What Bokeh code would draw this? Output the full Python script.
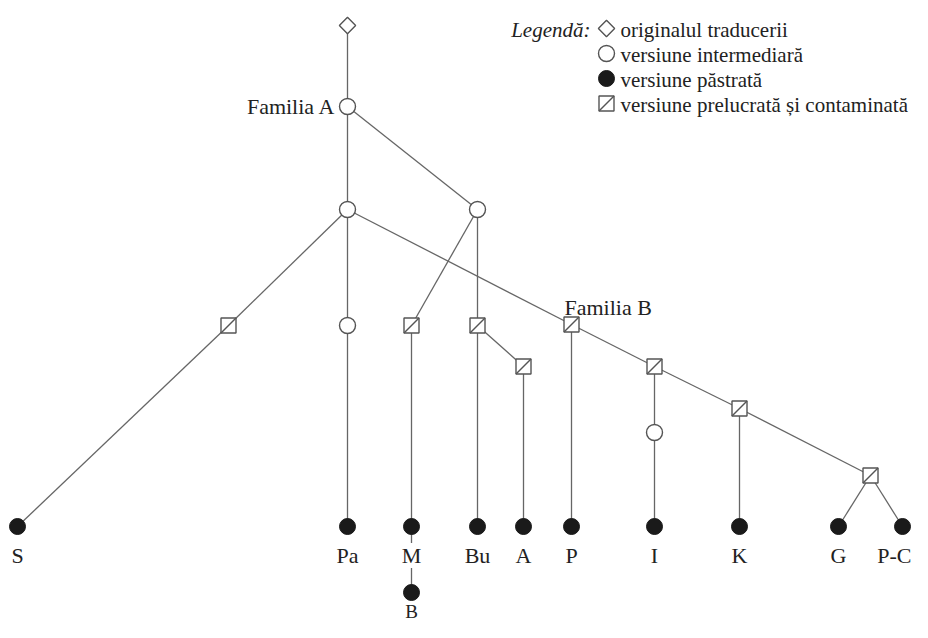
import math
from bokeh.plotting import figure
from bokeh.models import Range1d
from bokeh.core.properties import value
from bokeh.embed import file_html
from bokeh.resources import INLINE

# ---- data -------------------------------------------------------------
node_id = ["root", "famA", "c1", "c2", "sqS", "ciPa", "sqM", "sqBu", "sqA", "sqP",
           "sqI", "ciI", "sqK", "sqG",
           "S", "Pa", "M", "B", "Bu", "A", "P", "I", "K", "G", "PC"]
node_x = [347, 347, 347, 477, 228, 347, 411, 477, 523, 571,
          654, 654, 739, 870,
          17, 347, 411, 411, 477, 523, 571, 654, 739, 838, 902]
node_y = [25, 106, 209, 209, 325, 325, 325, 325, 366, 324,
          366, 432, 408, 475,
          526, 526, 526, 592, 526, 526, 526, 526, 526, 526, 526]
node_kind = ["original", "intermediate", "intermediate", "intermediate", "reworked",
             "intermediate", "reworked", "reworked", "reworked", "reworked",
             "reworked", "intermediate", "reworked", "reworked"] + ["preserved"] * 11

edge_from = ["root", "famA", "famA", "c1", "sqS", "c1", "ciPa", "c1", "sqP", "sqI", "sqK",
             "c2", "sqM", "M", "c2", "sqBu", "sqBu", "sqA", "sqP", "sqI", "ciI", "sqK",
             "sqG", "sqG"]
edge_to = ["famA", "c1", "c2", "sqS", "S", "ciPa", "Pa", "sqP", "sqI", "sqK", "sqG",
           "sqM", "M", "B", "sqBu", "Bu", "sqA", "A", "P", "ciI", "I", "K",
           "G", "PC"]

leaf_nodes = ["S", "Pa", "M", "Bu", "A", "P", "I", "K", "G", "PC", "B"]
leaf_labels = ["S", "Pa", "M", "Bu", "A", "P", "I", "K", "G", "P-C", "B"]

family_labels = ["Familia A", "Familia B"]

legend_title = "Legendă:"
legend_kinds = ["original", "intermediate", "preserved", "reworked"]
legend_texts = ["originalul traducerii", "versiune intermediară",
                "versiune păstrată", "versiune prelucrată și contaminată"]

# ---- styling ----------------------------------------------------------
LINE = "#666666"
OUT = "#555555"
FILL_DARK = "#1a1a1a"
TEXT = "#222222"
FONT = value("Liberation Serif")
SQ = 15
BASE_FIX = -7  # shift so that the alphabetic baseline lands where intended
W, H = 912, 622

pos = {n: (x, y) for n, x, y in zip(node_id, node_x, node_y)}

p = figure(width=W, height=H, output_backend="svg", toolbar_location=None,
           x_range=Range1d(0, W), y_range=Range1d(H, 0),
           min_border=0, outline_line_color=None, background_fill_color="white")
p.axis.visible = False
p.grid.visible = False

# edges
p.segment(x0=[pos[a][0] for a in edge_from], y0=[pos[a][1] for a in edge_from],
          x1=[pos[b][0] for b in edge_to], y1=[pos[b][1] for b in edge_to],
          line_color=LINE, line_width=1.3)


def draw_nodes(xs, ys, kinds):
    for kind in ["original", "intermediate", "preserved", "reworked"]:
        px = [x for x, k in zip(xs, kinds) if k == kind]
        py = [y for y, k in zip(ys, kinds) if k == kind]
        if not px:
            continue
        if kind == "original":
            p.scatter(px, py, marker="square", size=11.5, angle=math.pi / 4,
                      fill_color="white", line_color=OUT, line_width=1.4)
        elif kind == "intermediate":
            p.scatter(px, py, marker="circle", size=16,
                      fill_color="white", line_color=OUT, line_width=1.4)
        elif kind == "preserved":
            p.scatter(px, py, marker="circle", size=16,
                      fill_color=FILL_DARK, line_color=FILL_DARK, line_width=1)
        elif kind == "reworked":
            p.scatter(px, py, marker="square", size=SQ,
                      fill_color="white", line_color=OUT, line_width=1.4)
            h = SQ / 2
            p.segment(x0=[x - h for x in px], y0=[y + h for y in py],
                      x1=[x + h for x in px], y1=[y - h for y in py],
                      line_color=OUT, line_width=1.4)


draw_nodes(node_x, node_y, node_kind)

# leaf labels (bottom row, centred; the right-most one kept inside the frame)
row = [n for n in leaf_nodes if n not in ("B", "PC")]
p.text(x=[pos[n][0] for n in row], y=[pos[n][1] + 36 + BASE_FIX for n in row],
       text=[leaf_labels[leaf_nodes.index(n)] for n in row], text_font=FONT,
       text_font_size="22px", text_align="center", text_baseline="alphabetic",
       text_color=TEXT, background_fill_color="white")
p.text(x=[W - 1], y=[pos["PC"][1] + 36 + BASE_FIX], text=[leaf_labels[leaf_nodes.index("PC")]],
       text_font=FONT, text_font_size="22px", text_align="right",
       text_baseline="alphabetic", text_color=TEXT)
p.text(x=[pos["B"][0]], y=[pos["B"][1] + 26 + BASE_FIX], text=[leaf_labels[-1]],
       text_font=FONT, text_font_size="19px", text_align="center",
       text_baseline="alphabetic", text_color=TEXT)

# family labels
fa = pos["famA"]
p.text(x=[fa[0] - 12], y=[fa[1] + 7 + BASE_FIX], text=[family_labels[0]], text_font=FONT,
       text_font_size="22px", text_align="right", text_baseline="alphabetic",
       text_color=TEXT)
fb = pos["sqP"]
p.text(x=[fb[0] - 7], y=[fb[1] - 10 + BASE_FIX], text=[family_labels[1]], text_font=FONT,
       text_font_size="22px", text_align="left", text_baseline="alphabetic",
       text_color=TEXT)

# legend
leg_x = 606
leg_y = [28 + 25 * i for i in range(len(legend_kinds))]
p.text(x=[leg_x - 16], y=[leg_y[0] + 8 + BASE_FIX], text=[legend_title], text_font=FONT,
       text_font_size="21px", text_font_style="italic", text_align="right",
       text_baseline="alphabetic", text_color=TEXT)
draw_nodes([leg_x] * len(legend_kinds), leg_y, legend_kinds)
p.text(x=[leg_x + 14] * len(legend_texts), y=[y + 8 + BASE_FIX for y in leg_y],
       text=legend_texts, text_font=FONT, text_font_size="21px", text_align="left",
       text_baseline="alphabetic", text_color=TEXT)

open("out.html", "w").write(file_html(p, INLINE))
